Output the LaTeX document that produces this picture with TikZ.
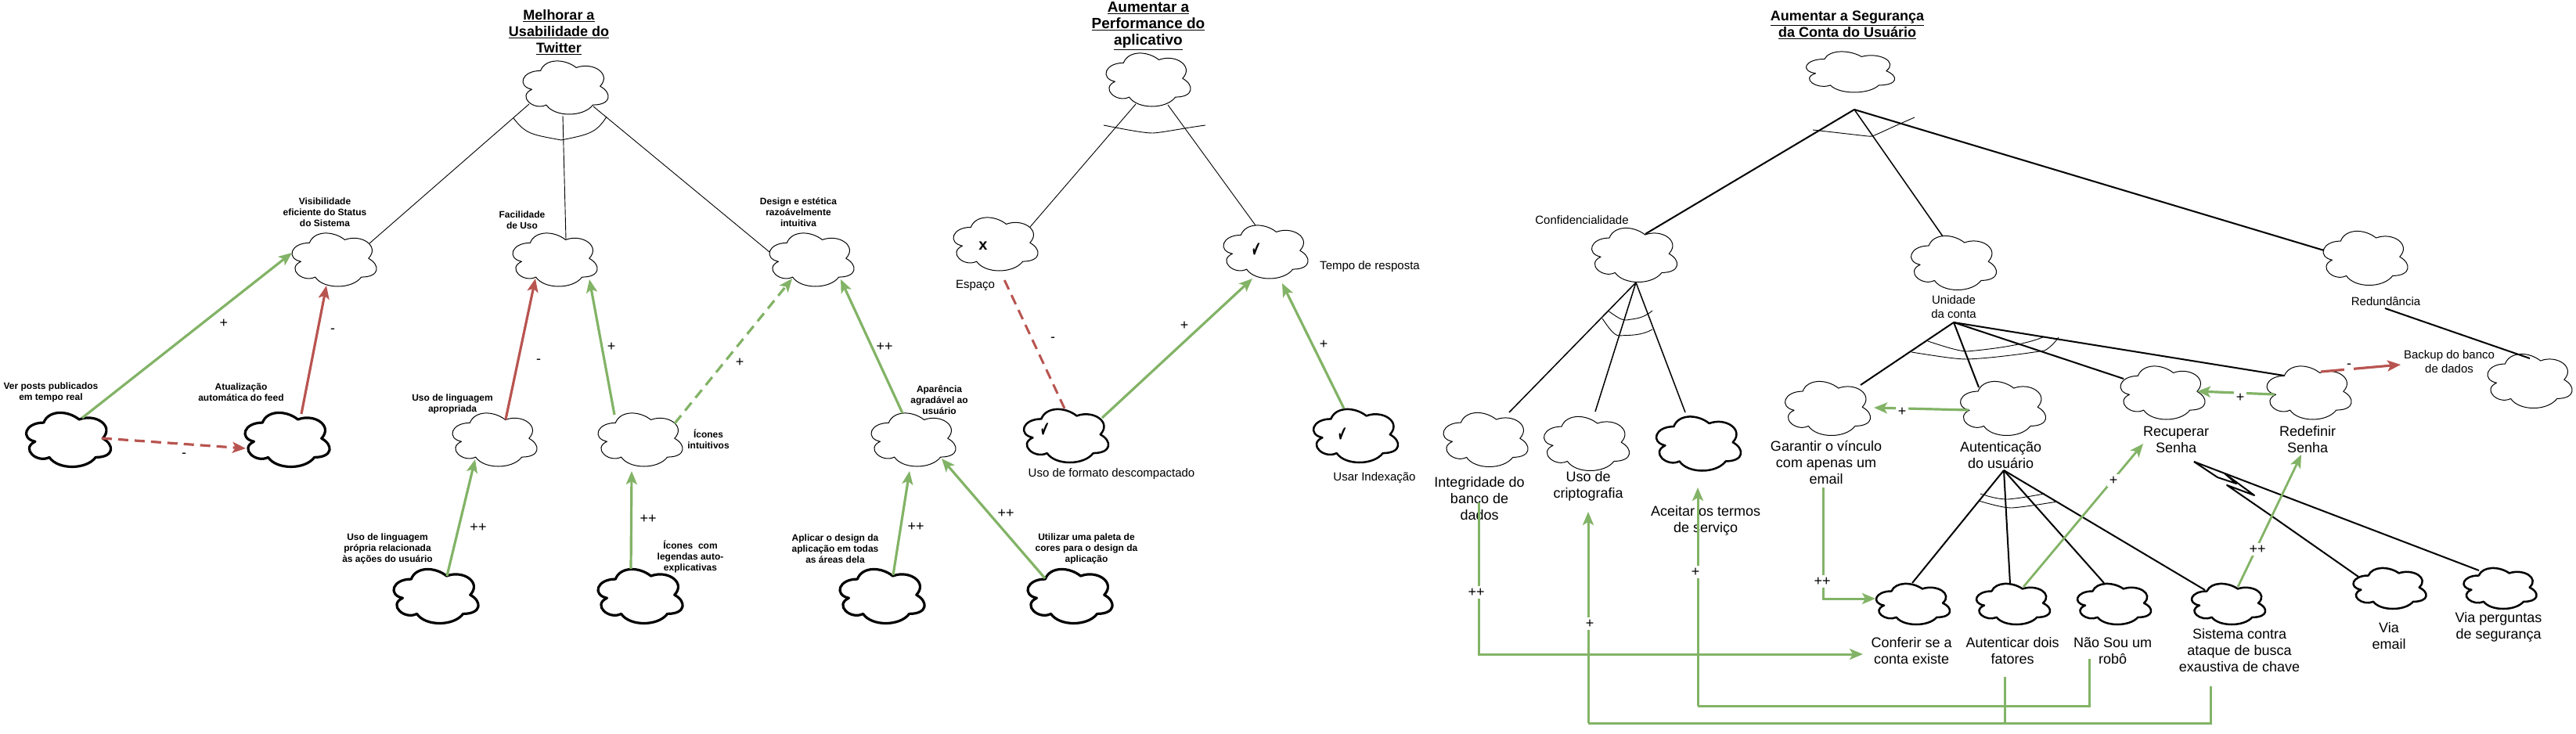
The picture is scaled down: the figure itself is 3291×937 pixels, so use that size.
\documentclass[tikz,border=0pt]{standalone}
\usepackage{fontspec}
\setmainfont{Liberation Sans}
\newfontfamily\dejavu{DejaVu Sans}
\usetikzlibrary{arrows.meta,calc}
\definecolor{gedge}{HTML}{82B366}
\definecolor{redge}{HTML}{B85450}
\tikzset{
  hair/.style={line width=1pt},
  heavyc/.style={line width=3.2pt},
  midc/.style={line width=2.5pt},
  treeln/.style={draw=black,line width=0.9pt},
  branch/.style={draw=black,line width=2pt},
  arcline/.style={draw=black,line width=0.9pt},
  gtip/.style={-{Stealth[length=17pt,width=14pt,inset=4pt]}},
  gar/.style={draw=gedge,line width=3.2pt,gtip},
  gln/.style={draw=gedge,line width=3pt},
  rar/.style={draw=redge,line width=3.2pt,-{Stealth[length=17pt,width=14pt,inset=4pt]}},
  dsh/.style={dash pattern=on 13pt off 8pt},
  smallt/.style={font=\fontsize{12}{14}\selectfont\bfseries,align=center,inner sep=0pt},
  mtxt/.style={font=\fontsize{15}{18}\selectfont,align=center,inner sep=0pt},
  ltxt/.style={font=\fontsize{18}{21}\selectfont,align=center,inner sep=0pt},
  ttl/.style={font=\fontsize{18}{21}\selectfont\bfseries,align=center,inner sep=0pt},
  sgn/.style={font=\fontsize{18}{18}\selectfont,inner sep=0pt},
  sgnw/.style={font=\fontsize{18}{18}\selectfont,inner sep=3pt,fill=white},
  checkm/.style={font=\dejavu\fontsize{28}{28}\selectfont,inner sep=0pt},
}
\newcommand\cloudn[6]{%
  \node[minimum width=#4pt,minimum height=#5pt,inner sep=0pt,outer sep=0pt] (#1) at (#2,#3) {};
  \draw[#6,fill=white,line join=round,shift={(#2,#3)},x={#4pt/0.895},y={-#5pt/0.856},shift={(-0.5125,-0.522)}]
    (0.25,0.25) .. controls (0.05,0.25) and (0,0.5) .. (0.16,0.55)
    .. controls (0,0.66) and (0.18,0.9) .. (0.31,0.8)
    .. controls (0.4,1) and (0.7,1) .. (0.8,0.8)
    .. controls (1,0.8) and (1,0.6) .. (0.875,0.5)
    .. controls (1,0.3) and (0.8,0.1) .. (0.625,0.2)
    .. controls (0.5,0.05) and (0.3,0.05) .. (0.25,0.25) -- cycle;
}
\begin{document}
\begin{tikzpicture}[x=1pt,y=-1pt]
\useasboundingbox (0,0) rectangle (3291,937);
% clouds
\cloudn{U0}{722.5}{112}{109}{68}{hair}
\cloudn{Vis}{427}{332}{108}{68}{hair}
\cloudn{Fac}{709}{332}{108}{68}{hair}
\cloudn{Des}{1037}{332}{108}{68}{hair}
\cloudn{Ver}{87.5}{562}{108}{69}{heavyc}
\cloudn{Atu}{367}{562}{108}{69}{heavyc}
\cloudn{UsoL}{632}{562}{108}{68}{hair}
\cloudn{Ico}{818}{562}{108}{68}{hair}
\cloudn{Pro}{557}{762}{108}{69}{heavyc}
\cloudn{Icc}{818}{762}{108}{69}{heavyc}
\cloudn{Apa}{1167}{562}{108}{68}{hair}
\cloudn{Apl}{1127}{762}{108}{69}{heavyc}
\cloudn{Uti}{1367}{762}{108}{69}{heavyc}
\cloudn{P0}{1467}{102}{108}{68}{hair}
\cloudn{Esp}{1272}{312}{108}{68}{hair}
\cloudn{Tem}{1617}{322}{108}{68}{hair}
\cloudn{Ufo}{1362}{557}{108}{68}{midc}
\cloudn{Uin}{1732}{557}{108}{68}{midc}
\cloudn{S0}{2364}{92}{113}{52}{hair}
\cloudn{Con}{2088}{326}{109}{69}{hair}
\cloudn{Uni}{2496}{336}{109}{69}{hair}
\cloudn{Red}{3022}{330}{108}{69}{hair}
\cloudn{Bak}{3232}{487}{108}{69}{hair}
\cloudn{Gar}{2335}{522}{109}{69}{hair}
\cloudn{Aut}{2559}{522}{109}{69}{hair}
\cloudn{Rec}{2763}{502}{108}{68}{hair}
\cloudn{Rdf}{2950}{502}{108}{68}{hair}
\cloudn{Int}{1898}{562}{108}{69}{hair}
\cloudn{Cri}{2027}{567}{109}{69}{hair}
\cloudn{Ace}{2170}{567}{108}{69}{midc}
\cloudn{Cof}{2444}{772}{94}{52}{midc}
\cloudn{Atf}{2572}{772}{94}{52}{midc}
\cloudn{Nao}{2701}{772}{94}{52}{midc}
\cloudn{Sis}{2847}{772}{94}{52}{midc}
\cloudn{Vem}{3053}{752}{93}{52}{midc}
\cloudn{Vpe}{3194}{752}{93}{52}{midc}
% free junctions
\coordinate (Sap) at (2369,140);
\coordinate (Cap) at (2090,361);
\coordinate (Uap) at (2496,412);
\coordinate (Aap) at (2560,601);
\coordinate (Rap) at (2803,590);
\coordinate (bus1) at (2029,924);
\coordinate (bus2) at (2169,902);
% text labels
\node[ttl] (t1) at (714,41) {\underline{Melhorar a}\\\underline{Usabilidade do}\\\underline{Twitter}};
\node[ttl,font=\fontsize{19}{21}\selectfont\bfseries] (t2) at (1467,33) {\underline{Aumentar a}\\\underline{Performance do}\\\underline{aplicativo}};
\node[ttl] (t3) at (2360,32) {\underline{Aumentar a Segurança}\\\underline{da Conta do Usuário}};
\node[smallt] (lVis) at (415,271) {Visibilidade\\eficiente do Status\\do Sistema};
\node[smallt] (lFac) at (667,281) {Facilidade\\de Uso};
\node[smallt] (lDes) at (1020,271) {Design e estética\\razoávelmente\\intuitiva};
\node[smallt] (lVer) at (65,501) {Ver posts publicados\\em tempo real};
\node[smallt] (lAtu) at (308,501) {Atualização\\automática do feed};
\node[smallt] (lUsoL) at (578,516) {Uso de linguagem\\apropriada};
\node[smallt] (lIco) at (905,561) {Ícones\\intuitivos};
\node[smallt] (lPro) at (495,701) {Uso de linguagem\\própria relacionada\\às ações do usuário};
\node[smallt] (lIcc) at (882,711) {Ícones\ \ com\\legendas auto-\\explicativas};
\node[smallt] (lApl) at (1067,701) {Aplicar o design da\\aplicação em todas\\as áreas dela};
\node[smallt] (lUti) at (1388,701) {Utilizar uma paleta de\\cores para o design da\\aplicação};
\node[smallt] (lApa) at (1200,511) {Aparência\\agradável ao\\usuário};
\node[mtxt] (lEsp) at (1246,365) {Espaço};
\node[mtxt] (lTem) at (1750,341) {Tempo de resposta};
\node[mtxt] (lUfo) at (1420,606) {Uso de formato descompactado};
\node[mtxt] (lUin) at (1756,611) {Usar Indexação};
\node[mtxt] (lCon) at (2021,281) {Confidencialidade};
\node[mtxt] (lUni) at (2496,392) {Unidade\\da conta};
\node[mtxt] (lRed) at (3048,385) {Redundância};
\node[mtxt] (lBak) at (3129,462) {Backup do banco\\de dados};
% connectors
\draw[treeln] ($(U0)+(-46.5,21)$) -- ($(Vis)+(45,-21)$);
\draw[treeln] ($(U0)+(-3.5,36)$) -- ($(Fac)+(14,-26)$);
\draw[treeln] ($(U0)+(35.5,24)$) -- ($(Des)+(-54,-10)$);
\draw[treeln] ($(P0)+(-16,31)$) -- ($(Esp)+(44,-22)$);
\draw[treeln] ($(P0)+(25,32)$) -- ($(Tem)+(-13,-34)$);
\draw[branch] (Sap) -- ($(Con)+(14,-27)$);
\draw[branch,line width=1.5pt] (Sap) -- ($(Uni)+(-14,-34)$);
\draw[branch] (Sap) -- ($(Red)+(-53,-10)$);
\draw[branch,line width=1.5pt] (Cap) -- ($(Int)+(30,-35)$);
\draw[branch,line width=1.5pt] (Cap) -- ($(Cri)+(11,-41)$);
\draw[branch,line width=1.5pt] (Cap) -- ($(Ace)+(-17,-40)$);
\draw[branch] (Uap) -- ($(Gar)+(42,-30)$);
\draw[branch] (Uap) -- ($(Aut)+(-31,-27)$);
\draw[branch] (Uap) -- ($(Rec)+(-50,-18)$);
\draw[branch] (Uap) -- ($(Rdf)+(-32,-22)$);
\draw[branch] (Aap) -- ($(Cof)+(-1,-27)$);
\draw[branch] (Aap) -- ($(Atf)+(-4,-26)$);
\draw[branch] (Aap) -- ($(Nao)+(-13,-27)$);
\draw[branch] (Aap) -- ($(Sis)+(-30,-18)$);
\draw[branch,line join=round] (Rap) -- (2833,610) -- (2857,618) -- (2842,605) -- (2880,633) -- (2845,620) -- (2903,660) -- ($(Vem)+(-40,-15)$);
\draw[branch] (Rap) -- ($(Vpe)+(-27,-23)$);
\draw[branch] ($(lRed)+(-1,9)$) -- ($(Bak)+(0,-29)$);
% decomposition arcs
\draw[arcline] (656,151) .. controls (672,172) and (680,172) .. (717,179) .. controls (752,172) and (762,170) .. (775,149);
\draw[arcline] (1410,160) .. controls (1440,166) and (1462,170) .. (1472,170) .. controls (1482,170) and (1510,164) .. (1540,160);
\draw[arcline] (2316,166) -- (2386,174) .. controls (2392,176) and (2395,172) .. (2446,150);
\draw[arcline] (2054,397) .. controls (2066,405) and (2070,409) .. (2078,409) .. controls (2088,407) and (2098,408) .. (2111,397);
\draw[arcline] (2047,407) .. controls (2056,420) and (2062,429) .. (2069,429) .. controls (2078,428) and (2095,430) .. (2111,421);
\draw[arcline] (2463,436) .. controls (2490,445) and (2505,449) .. (2513,449) .. controls (2535,447) and (2585,442) .. (2612,430);
\draw[arcline] (2442,450) .. controls (2480,456) and (2500,459) .. (2513,459) .. controls (2540,458) and (2580,453) .. (2612,448) .. controls (2618,445) and (2625,438) .. (2630,431);
\draw[arcline] (2530,631) .. controls (2545,636) and (2555,638) .. (2565,638) .. controls (2578,637) and (2595,634) .. (2612,631);
\draw[arcline] (2528,640) .. controls (2545,645) and (2560,649) .. (2570,649) .. controls (2585,648) and (2610,644) .. (2628,641);
% contribution links, left goal
\draw[gar] ($(Ver)+(17.5,-28)$) -- ($(Vis)+(-54,-9)$);
\draw[rar,dsh] ($(Ver)+(42.5,-2)$) -- ($(Atu)+(-53,11)$);
\draw[rar] ($(Atu)+(18,-33)$) -- ($(Vis)+(-10,33)$);
\draw[rar] ($(UsoL)+(14,-26)$) -- ($(Fac)+(-25,24)$);
\draw[gar] ($(Ico)+(-33,-32)$) -- ($(Fac)+(44,25)$);
\draw[gar,dsh] ($(Ico)+(44,-21)$) -- ($(Des)+(-25,24)$);
\draw[gar] ($(Pro)+(14,-26)$) -- ($(UsoL)+(-25,25)$);
\draw[gar] ($(Icc)+(-12,-35)$) -- ($(Ico)+(-11,40)$);
\draw[gar] ($(Apa)+(-14,-34)$) -- ($(Des)+(37,25)$);
\draw[gar] ($(Apl)+(14,-27)$) -- ($(Apa)+(-5,40)$);
\draw[gar] ($(Uti)+(-32,-23)$) -- ($(Apa)+(36,24)$);
% middle goal
\draw[draw=redge,line width=3pt,dsh] ($(Ufo)+(-2,-35)$) -- ($(Esp)+(8,39)$);
\draw[gar] ($(Ufo)+(46,-23)$) -- ($(Tem)+(-17,34)$);
\draw[gar] ($(Uin)+(-15,-35)$) -- ($(Tem)+(21,40)$);
% large labels of the right goal
\node[ltxt] (lInt) at (1890,637) {Integridade do\\banco de\\dados};
\node[ltxt] (lCri) at (2029,621.5) {Uso de\\criptografia};
\node[ltxt] (lAce) at (2179,665) {Aceitar os termos\\de serviço};
\node[ltxt] (lGar) at (2333,591) {Garantir o vínculo\\com apenas um\\email};
\node[ltxt] (lAut) at (2556,581.5) {Autenticação\\do usuário};
\node[ltxt] (lRec) at (2780,561.5) {Recuperar\\Senha};
\node[ltxt] (lRdf) at (2948,561.5) {Redefinir\\Senha};
\node[ltxt] (lCof) at (2442,831.5) {Conferir se a\\conta existe};
\node[ltxt] (lAtf) at (2571,831.5) {Autenticar dois\\fatores};
\node[ltxt] (lNao) at (2699,831.5) {Não Sou um\\robô};
\node[ltxt] (lSis) at (2861,831) {Sistema contra\\ataque de busca\\exaustiva de chave};
\node[ltxt] (lVem) at (3052,812.5) {Via\\email};
\node[ltxt] (lVpe) at (3192,801.5) {Via perguntas\\de segurança};
% right goal links
\draw[rar] ($(Rdf)+(15,-27)$) -- ($(lBak)+(-62,4)$);
\draw[gar] ($(Rdf)+(-44,2)$) -- ($(Rec)+(44,-2)$);
\draw[gar] ($(Aut)+(-44,2)$) -- ($(Gar)+(59,-1)$);
\draw[gar,line width=2.8pt] ($(Atf)+(13,-22)$) -- ($(lRec)+(-42,5.5)$);
\draw[gar,line width=2.8pt] ($(Sis)+(12,-22)$) -- ($(lRdf)+(-8,19.5)$);
\draw[gln,gtip] ($(lInt)+(-1,5)$) |- ($(lCof)+(-62,4.5)$);
\draw[gln] ($(lSis)+(-37,46)$) |- (bus1);
\draw[gln] ($(lAtf)+(-10,33.5)$) |- (bus1);
\draw[gln,gtip] (bus1) -- ($(lCri)+(0,32.5)$);
\draw[gln] ($(lNao)+(-30,10.5)$) |- (bus2);
\draw[gln,gtip] (bus2) -- ($(lAce)+(-10,-42)$);
\draw[gln,gtip] ($(lGar)+(-4,32)$) |- ($(Cof)+(-48,-7)$);
% signs
\node[sgn] (s1) at (286,413) {+};
\node[sgn] (s2) at (235,582) {-};
\node[sgn] (s3) at (425,423) {-};
\node[sgn] (s4) at (688,462) {-};
\node[sgn] (s5) at (781,443) {+};
\node[sgn] (s6) at (945,463) {+};
\node[sgn] (s7) at (611,674) {++};
\node[sgn] (s8) at (828,663) {++};
\node[sgn] (s9) at (1130,443) {++};
\node[sgn] (s10) at (1170,673) {++};
\node[sgn] (s11) at (1285,656) {++};
\node[sgn] (s12) at (1345,434) {-};
\node[sgn] (s13) at (1513,416) {+};
\node[sgn] (s14) at (1691,440) {+};
\node[sgnw] (s15) at (3001,468) {-};
\node[sgnw] (s16) at (2862,508) {+};
\node[sgnw] (s17) at (2430,526) {+};
\node[sgnw] (s18) at (2700,614) {+};
\node[sgnw] (s19) at (2884,702) {++};
\node[sgnw] (s20) at (1886,757) {++};
\node[sgnw] (s21) at (2031,797) {+};
\node[sgnw] (s22) at (2166,731) {+};
\node[sgnw] (s23) at (2328,743) {++};
% satisfaction marks
\node[font=\fontsize{20}{20}\selectfont\bfseries,inner sep=0pt] (m1) at (1256,314) {x};
\node[checkm] (m2) at (1605,320) {\scalebox{0.5}[1]{✔}};
\node[checkm] (m3) at (1335,550) {\scalebox{0.5}[1]{✔}};
\node[checkm] (m4) at (1715,556) {\scalebox{0.5}[1]{✔}};
\end{tikzpicture}
\end{document}
